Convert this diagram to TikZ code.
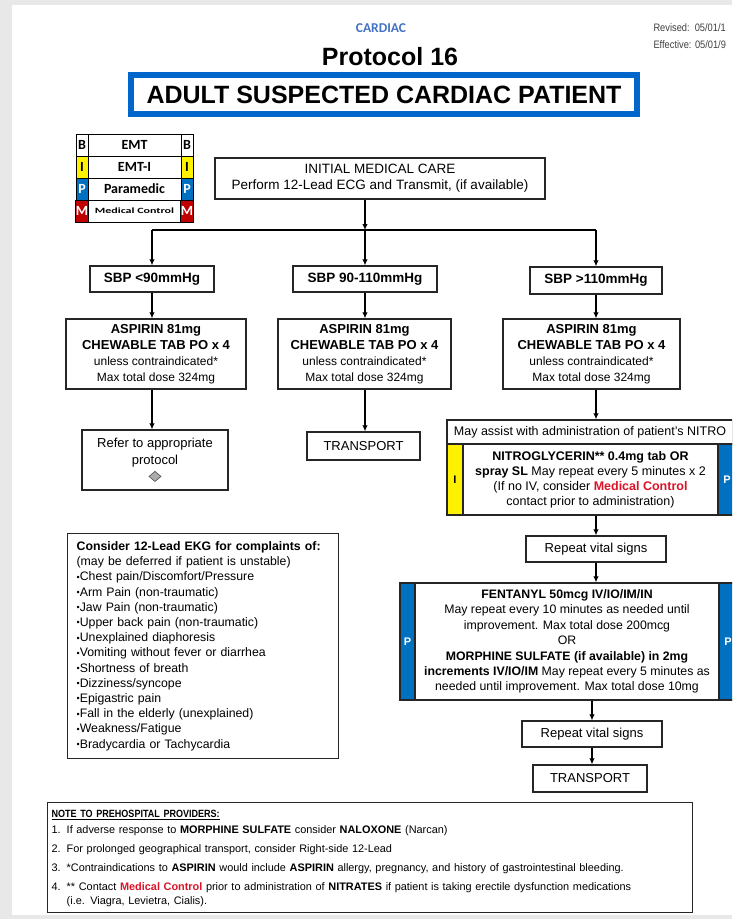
\documentclass[tikz,border=0pt]{standalone}
\usepackage{fontspec}
\setmainfont{Liberation Sans}
\newfontfamily\calibri{Carlito}
\newfontfamily\widecal[FakeStretch=1.5]{Carlito}
\newfontfamily\narrowsans[FakeStretch=0.86]{Liberation Sans}
\usetikzlibrary{arrows.meta,shapes.geometric}

\newcommand{\fsize}[2]{\fontsize{#1}{#2}\selectfont}
\newcommand{\medctl}{\textcolor{mcred}{\bfseries Medical Control}}
\newcommand{\bul}{\raisebox{0.1ex}{\fsize{9}{9}\textbullet}}

\begin{document}
\begin{tikzpicture}[x=1pt, y=-1pt, >={Latex[length=6pt,width=5.5pt]},
    box/.style={draw=black!85, line width=1.3pt, fill=white, align=center, inner sep=0pt},
    side/.style={draw=black!85, line width=1.3pt, inner sep=0pt, font=\bfseries\fsize{11}{11}},
    lgcell/.style={draw=black, line width=0.8pt, minimum height=22, inner sep=0pt, font=\calibri\bfseries\fsize{14}{14}},
    arr/.style={->, line width=1.2pt},
    link/.style={line width=1.2pt}]

    % Define Colors
    \definecolor{hblue}{RGB}{68, 114, 196}   % section heading
    \definecolor{tblue}{RGB}{0, 102, 204}    % title frame
    \definecolor{pblue}{RGB}{0, 112, 192}    % Paramedic
    \definecolor{mred}{RGB}{192, 0, 0}       % Medical Control cell
    \definecolor{mcred}{RGB}{220, 20, 40}    % Medical Control text
    \definecolor{pagegray}{RGB}{232, 232, 232}

    % Page
    \useasboundingbox (0,0) rectangle (732,919);
    \clip (0,0) rectangle (732,919);
    \fill[pagegray] (0,0) rectangle (732,919);
    \fill[white] (12,5) rectangle (740,915);

    % Header
    \node[font=\calibri\bfseries\fsize{13.5}{13.5}, text=hblue] (sect) at (381,28) {CARDIAC};
    \node[font=\bfseries\fsize{25}{25}] (proto) at (390,57) {Protocol 16};
    \node[draw=tblue, line width=6pt, fill=white, minimum width=506, minimum height=39, inner sep=0pt,
          font=\bfseries\fsize{25}{25}] (title) at (384,94.5) {ADULT SUSPECTED CARDIAC PATIENT};
    \node[anchor=west, font=\narrowsans\fsize{10.8}{10.8}, text=black!75] (rev) at (650,28) {Revised:~~05/01/1};
    \node[anchor=west, font=\narrowsans\fsize{10.8}{10.8}, text=black!75] (eff) at (650,45) {Effective: 05/01/9};

    % Level legend
    \foreach \r/\ltr/\bg/\fg/\lbl in {0/B/white/black/EMT, 1/I/yellow/black/EMT-I, 2/P/pblue/white/Paramedic,
                                      3/M/mred/white/{\widecal\fsize{8}{8}Medical Control}} {
        \node[lgcell, fill=\bg, text=\fg, minimum width=12] (lgL\r) at (82, 145+22*\r) {\ltr};
        \node[lgcell, fill=white, minimum width=93] (lgT\r) at (134.5, 145+22*\r) {\lbl};
        \node[lgcell, fill=\bg, text=\fg, minimum width=12] (lgR\r) at (187, 145+22*\r) {\ltr};
    }

    % Initial care and split
    \node[box, minimum width=330, minimum height=41, font=\fsize{13.5}{16}] (init) at (380,178.5)
        {INITIAL MEDICAL CARE\\Perform 12-Lead ECG and Transmit, (if available)};
    \coordinate (split) at (365,230);

    % Blood pressure branches
    \node[box, minimum width=124, minimum height=26, font=\bfseries\fsize{13.5}{13.5}] (sbpA) at (152,279) {SBP <90mmHg};
    \node[box, minimum width=144, minimum height=26, font=\bfseries\fsize{13.5}{13.5}] (sbpB) at (365,279) {SBP 90-110mmHg};
    \node[box, minimum width=132, minimum height=27, font=\bfseries\fsize{13.5}{13.5}] (sbpC) at (596,280.5) {SBP >110mmHg};

    \draw[arr] (init.south -| split) -- (split);
    \draw[link] (sbpA |- split) -- (sbpC |- split);
    \foreach \s in {sbpA, sbpB, sbpC}
        \draw[arr] (\s |- split) -- (\s.north);

    % Aspirin
    \foreach \n/\cx/\w in {aspA/156/180, aspB/364.5/173, aspC/591.5/177} {
        \node[box, minimum width=\w, minimum height=70, font=\fsize{12}{16}] (\n) at (\cx,354)
            {{\bfseries\fsize{13}{16}ASPIRIN 81mg}\\{\bfseries\fsize{13}{16}CHEWABLE TAB PO x 4}\\unless contraindicated*\\Max total dose 324mg};
    }
    \foreach \s/\a in {sbpA/aspA, sbpB/aspB, sbpC/aspC}
        \draw[arr] (\s.south) -- (\s.south |- \a.north);

    % Left and middle outcomes
    \node[box, minimum width=146, minimum height=60, font=\fsize{13}{17}] (refer) at (155,460)
        {Refer to appropriate\\protocol\\\tikz\draw[fill=gray!65, draw=black!70, line width=0.6pt] (0pt,5pt) -- (6pt,0pt) -- (0pt,-5pt) -- (-6pt,0pt) -- cycle;};
    \node[box, minimum width=113, minimum height=28, font=\fsize{13}{13}] (trans1) at (363.5,446) {TRANSPORT};
    \draw[arr] (sbpA |- aspA.south) -- (sbpA |- refer.north);
    \draw[arr] (sbpB |- aspB.south) -- (sbpB |- trans1.north);

    % Nitroglycerin
    \node[box, minimum width=286, minimum height=24, font=\fsize{12.5}{12.5}] (assist) at (590,432)
        {May assist with administration of patient's NITRO};
    \node[box, minimum width=255, minimum height=71, font=\fsize{12.5}{15}] (nitro) at (590.5,479.5)
        {\textbf{NITROGLYCERIN** 0.4mg tab OR}\\\textbf{spray SL} May repeat every 5 minutes x 2\\(If no IV, consider \medctl\\contact prior to administration)};
    \node[side, fill=yellow, minimum width=16, minimum height=71] (nitroI) at (455,479.5) {I};
    \node[side, fill=pblue, text=white, minimum width=18, minimum height=71] (nitroP) at (727,479.5) {P};
    \draw[arr] (sbpC |- aspC.south) -- (sbpC |- assist.north);

    % Vital signs and analgesia
    \node[box, minimum width=140, minimum height=26, font=\fsize{13}{13}] (vitals1) at (596,549) {Repeat vital signs};
    \node[box, minimum width=304, minimum height=117, font=\fsize{12.3}{15.4}] (fent) at (567,641.5)
        {\textbf{FENTANYL 50mcg IV/IO/IM/IN}\\May repeat every 10 minutes as needed until\\improvement. Max total dose 200mcg\\OR\\
         \textbf{MORPHINE SULFATE (if available) in 2mg}\\\textbf{increments IV/IO/IM} May repeat every 5 minutes as\\needed until improvement. Max total dose 10mg};
    \node[side, fill=pblue, text=white, minimum width=15, minimum height=117] (fentPl) at (407.5,641.5) {P};
    \node[side, fill=pblue, text=white, minimum width=18, minimum height=117] (fentPr) at (728,641.5) {P};
    \node[box, minimum width=140, minimum height=26, font=\fsize{13}{13}] (vitals2) at (592,734) {Repeat vital signs};
    \node[box, minimum width=114, minimum height=27, font=\fsize{13}{13}] (trans2) at (590,778.5) {TRANSPORT};

    \draw[arr] (vitals1 |- nitro.south) -- (vitals1.north);
    \draw[arr] (vitals1.south) -- (vitals1.south |- fent.north);
    \draw[arr] (vitals2 |- fent.south) -- (vitals2.north);
    \draw[arr] (vitals2.south) -- (vitals2.south |- trans2.north);

    % 12-Lead complaints
    \node[box, anchor=north west, minimum width=271, minimum height=225, text width=253, align=left,
          font=\fsize{12.3}{15.2}] (ekg) at (67,533)
        {\textbf{Consider 12-Lead EKG for complaints of:}\\(may be deferred if patient is unstable)\\
         \bul Chest pain/Discomfort/Pressure\\\bul Arm Pain (non-traumatic)\\\bul Jaw Pain (non-traumatic)\\
         \bul Upper back pain (non-traumatic)\\\bul Unexplained diaphoresis\\\bul Vomiting without fever or diarrhea\\
         \bul Shortness of breath\\\bul Dizziness/syncope\\\bul Epigastric pain\\\bul Fall in the elderly (unexplained)\\
         \bul Weakness/Fatigue\\\bul Bradycardia or Tachycardia};

    % Notes
    \node[box, anchor=north west, minimum width=645, minimum height=110, text width=637, align=left,
          font=\fsize{10.9}{19}] (notes) at (47,802)
        {\begin{tabular}{@{}l@{\hspace{6pt}}l@{}}
         \multicolumn{2}{@{}l}{\narrowsans\fsize{10.5}{19}\textbf{\underline{NOTE TO PREHOSPITAL PROVIDERS:}}}\\[-3pt]
         1. & If adverse response to \textbf{MORPHINE SULFATE} consider \textbf{NALOXONE} (Narcan)\\
         2. & For prolonged geographical transport, consider Right-side 12-Lead\\
         3. & *Contraindications to \textbf{ASPIRIN} would include \textbf{ASPIRIN} allergy, pregnancy, and history of gastrointestinal bleeding.\\
         4. & ** Contact \medctl{} prior to administration of \textbf{NITRATES} if patient is taking erectile dysfunction medications\\[-5pt]
            & (i.e. Viagra, Levietra, Cialis).
         \end{tabular}};

\end{tikzpicture}
\end{document}
